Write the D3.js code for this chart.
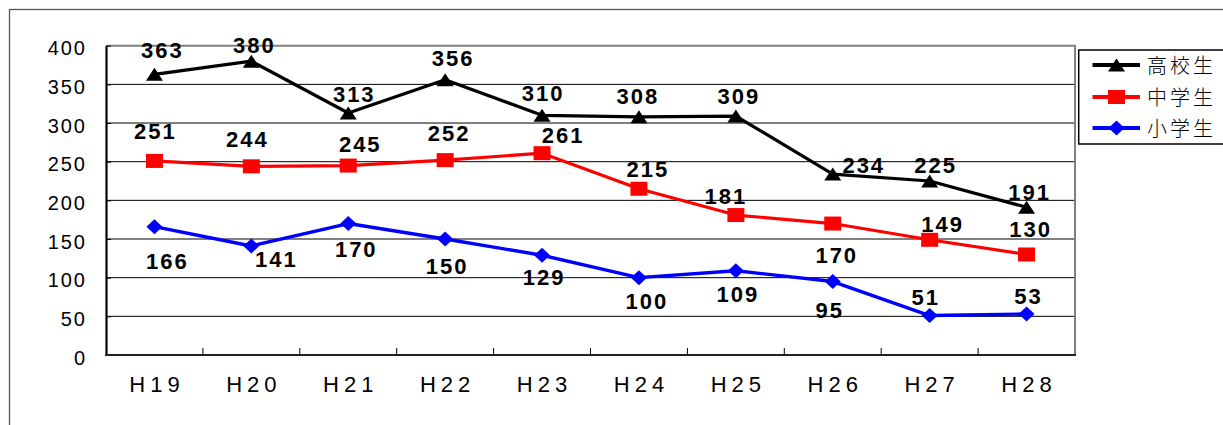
<!DOCTYPE html>
<html>
<head>
<meta charset="utf-8">
<script src="https://cdn.jsdelivr.net/npm/d3@7/dist/d3.min.js"></script>
<style>
  html, body { margin: 0; padding: 0; background: #fff; }
  svg { display: block; }
</style>
</head>
<body>
<svg id="chart" width="1223" height="425"></svg>
<script>
// ---- Data ----
const categories = ["H19", "H20", "H21", "H22", "H23", "H24", "H25", "H26", "H27", "H28"];
const highSchool = [363, 380, 313, 356, 310, 308, 309, 234, 225, 191];   // 高校生
const middleSchool = [251, 244, 245, 252, 261, 215, 181, 170, 149, 130]; // 中学生
const elementary = [166, 141, 170, 150, 129, 100, 109, 95, 51, 53];      // 小学生
const yTicks = [0, 50, 100, 150, 200, 250, 300, 350, 400];
const seriesNames = ["高校生", "中学生", "小学生"];

// label offsets relative to points (layout config)
const highOffsets = [[7,-24],[2,-16],[5,-19],[7,-22],[0,-22],[-2,-21],[2,-20],[30,-9],[5,-16],[2,-15]];
const middleOffsets = [[0,-30],[-5,-27],[11,-22],[3,-27],[20,-18],[8,-20],[-11,-19],[3,31],[12,-16],[3,-25]];
const elemOffsets = [[12,34],[24,13],[7,25],[1,27],[1,22],[7,23],[1,23],[-4,28],[-5,-19],[1,-18]];

const svg = d3.select("#chart");
const L = 106, R = 1075, T = 45.7, B = 355;

const x = d3.scaleBand().domain(categories).range([L, R]);
const y = d3.scaleLinear().domain([0, 400]).range([B, T]);
const cx = c => x(c) + x.bandwidth() / 2;

// outer frame
svg.append("rect").attr("x", 9.5).attr("y", 9.5).attr("width", 1300).attr("height", 500)
  .attr("fill", "none").attr("stroke", "#555").attr("stroke-width", 1.3);

// gridlines
svg.append("g").selectAll("line").data(yTicks.filter(v => v > 0 && v < 400)).join("line")
  .attr("x1", L).attr("x2", R).attr("y1", d => y(d)).attr("y2", d => y(d))
  .attr("stroke", "#000").attr("stroke-width", 1);

// plot border (top & right gray)
svg.append("line").attr("x1", L).attr("x2", R + 1).attr("y1", T).attr("y2", T)
  .attr("stroke", "#808080").attr("stroke-width", 2);
svg.append("line").attr("x1", R).attr("x2", R).attr("y1", T).attr("y2", B)
  .attr("stroke", "#808080").attr("stroke-width", 2);

// y axis
const yAxis = d3.axisLeft(y).tickValues(yTicks).tickSizeInner(-5).tickSizeOuter(0).tickPadding(19);
const gy = svg.append("g").attr("transform", `translate(${L},0)`).call(yAxis);
gy.select(".domain").attr("stroke", "#000").attr("stroke-width", 2.2);
gy.selectAll(".tick line").attr("stroke", "#000");
gy.selectAll(".tick text")
  .attr("font-family", "Liberation Sans, Arial, sans-serif").attr("font-size", 20)
  .attr("letter-spacing", 2).attr("fill", "#000").attr("dy", "0.46em");

// x axis line
svg.append("line").attr("x1", L - 1).attr("x2", R + 1).attr("y1", B).attr("y2", B)
  .attr("stroke", "#222").attr("stroke-width", 2);
// x ticks at category boundaries, inward
svg.append("g").selectAll("line").data(categories.slice(1)).join("line")
  .attr("x1", d => x(d)).attr("x2", d => x(d)).attr("y1", B).attr("y2", B - 7)
  .attr("stroke", "#000").attr("stroke-width", 1);
// x labels
svg.append("g").selectAll("text").data(categories).join("text")
  .attr("x", d => cx(d) + 2.5).attr("y", 392)
  .attr("text-anchor", "middle")
  .attr("font-family", "Liberation Sans, Arial, sans-serif").attr("font-size", 22)
  .attr("letter-spacing", 5).attr("fill", "#000")
  .text(d => d);

// marker shapes
const triPath = "M0,-6.5L8.5,6.5L-8.5,6.5Z";
const sqPath = "M-8.5,-7L8.5,-7L8.5,7L-8.5,7Z";
const diaPath = "M0,-7.5L8,0L0,7.5L-8,0Z";

const series = [
  { name: seriesNames[0], values: highSchool, color: "#000000", path: triPath, offs: highOffsets, width: 3.2 },
  { name: seriesNames[1], values: middleSchool, color: "#ff0000", path: sqPath, offs: middleOffsets, width: 3.2 },
  { name: seriesNames[2], values: elementary, color: "#0000ff", path: diaPath, offs: elemOffsets, width: 3.4 }
];

const line = d3.line().x((d, i) => cx(categories[i])).y(d => y(d));

series.forEach(s => {
  svg.append("path").datum(s.values).attr("d", line)
    .attr("fill", "none").attr("stroke", s.color).attr("stroke-width", s.width)
    .attr("stroke-linejoin", "round");
  svg.append("g").selectAll("path").data(s.values).join("path")
    .attr("d", s.path)
    .attr("transform", (d, i) => `translate(${cx(categories[i])},${y(d)})`)
    .attr("fill", s.color);
});

// data labels
series.forEach(s => {
  svg.append("g").selectAll("text").data(s.values).join("text")
    .attr("x", (d, i) => cx(categories[i]) + s.offs[i][0] + 1)
    .attr("y", (d, i) => y(d) + s.offs[i][1] + 8)
    .attr("text-anchor", "middle")
    .attr("font-family", "Liberation Sans, Arial, sans-serif")
    .attr("font-size", 22).attr("font-weight", "bold")
    .attr("letter-spacing", 2).attr("fill", "#000")
    .text(d => d);
});

// legend
const lg = svg.append("g");
lg.append("rect").attr("x", 1078.7).attr("y", 50).attr("width", 160).attr("height", 94)
  .attr("fill", "#fff").attr("stroke", "#000").attr("stroke-width", 1.5);
const rowsY = [65, 97, 128];
series.forEach((s, i) => {
  lg.append("line").attr("x1", 1092.5).attr("x2", 1140).attr("y1", rowsY[i]).attr("y2", rowsY[i])
    .attr("stroke", s.color).attr("stroke-width", 4);
  lg.append("path").attr("d", s.path).attr("transform", `translate(1116.5,${rowsY[i]})`).attr("fill", s.color);
  lg.append("text").attr("x", 1147).attr("y", rowsY[i] + 7.5)
    .attr("font-family", "Noto Sans CJK JP, sans-serif").attr("font-size", 20)
    .attr("font-weight", 300)
    .attr("letter-spacing", 3).attr("fill", "#000")
    .text(s.name);
});
</script>
</body>
</html>
